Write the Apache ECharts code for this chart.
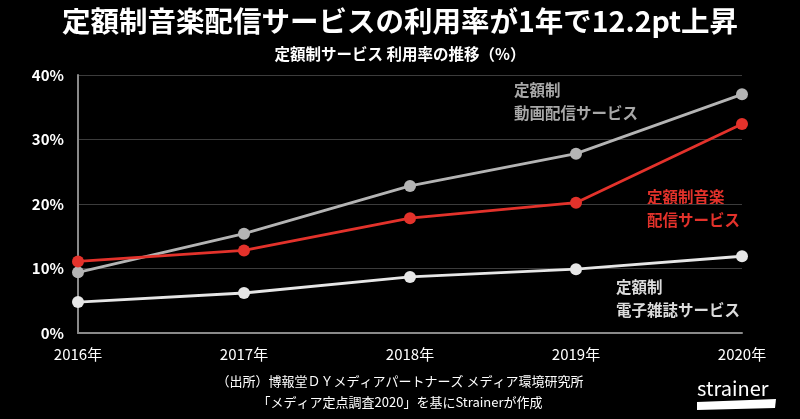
<!DOCTYPE html>
<html><head><meta charset="utf-8">
<script src="https://cdn.jsdelivr.net/npm/echarts@6/dist/echarts.min.js"></script>
<style>html,body{margin:0;padding:0;background:#000;}#c{width:800px;height:419px;}</style>
</head><body><div id="c"></div>
<script>
const years = ['2016年','2017年','2018年','2019年','2020年'];
const videoSvc = [9.4, 15.4, 22.8, 27.8, 37.0];
const musicSvc = [11.1, 12.8, 17.8, 20.2, 32.4];
const ebookSvc = [4.8, 6.2, 8.7, 9.9, 11.9];
const yTicks = [0, 10, 20, 30, 40];

const F = '"Noto Sans CJK JP", "Noto Sans", sans-serif';
const chart = echarts.init(document.getElementById('c'));
function ser(name, data, color) {
  return {name, type:'line', data, symbol:'circle', symbolSize:12,
    lineStyle:{color, width:2.8}, itemStyle:{color}, z: 3};
}
chart.setOption({
  backgroundColor:'#000',
  animation:false,
  grid:{left:78, right:58, top:75, bottom:86},
  title:[
    {text:'定額制音楽配信サービスの利用率が1年で12.2pt上昇', left:'center', top:2,
      textStyle:{color:'#fff', fontSize:28.5, fontWeight:'bold', fontFamily:F}},
    {text:'定額制サービス 利用率の推移（%）', left:'center', top:41,
      textStyle:{color:'#fff', fontSize:15.5, fontWeight:'bold', fontFamily:F}}
  ],
  xAxis:{type:'category', data:years, boundaryGap:false,
    axisLine:{lineStyle:{color:'#8a8a8a', width:2}}, axisTick:{show:false},
    axisLabel:{color:'#fff', fontSize:15, fontFamily:F, margin:14,
      interval:0}},
  yAxis:{type:'value', min:yTicks[0], max:yTicks[yTicks.length-1], interval:10,
    axisLine:{show:true, lineStyle:{color:'#8a8a8a', width:2}}, axisTick:{show:false},
    splitLine:{lineStyle:{color:'#3c3c3c', width:1}},
    axisLabel:{color:'#fff', fontSize:15, fontWeight:'bold', fontFamily:F, margin:14,
      formatter:'{value}%'}},
  series:[
    ser('動画', videoSvc, '#b4b4b4'),
    ser('電子雑誌', ebookSvc, '#e6e6e6'),
    ser('音楽', musicSvc, '#e3322b')
  ],
  graphic:[
    {type:'text', left:514, top:79, style:{text:'定額制\n動画配信サービス', fill:'#a8a8a8', font:'bold 15.5px '+F, lineHeight:23}},
    {type:'text', left:647, top:186, style:{text:'定額制音楽\n配信サービス', fill:'#e3322b', font:'bold 15.5px '+F, lineHeight:23}},
    {type:'text', left:616, top:276, style:{text:'定額制\n電子雑誌サービス', fill:'#dcdcdc', font:'bold 15.5px '+F, lineHeight:23}},
    {type:'text', left:'center', top:375, style:{text:'（出所）博報堂ＤＹメディアパートナーズ メディア環境研究所', fill:'#fff', font:'13px '+F, textAlign:'center'}},
    {type:'text', left:'center', top:396, style:{text:'「メディア定点調査2020」を基にStrainerが作成', fill:'#fff', font:'13px '+F, textAlign:'center'}},
    {type:'text', left:697, top:378, style:{text:'strainer', fill:'#fff', font:'20px '+F}},
    {type:'polygon', shape:{points:[[697,402],[776,399],[775,408],[697,410]]}, style:{fill:'#fff'}}
  ]
});
</script></body></html>
